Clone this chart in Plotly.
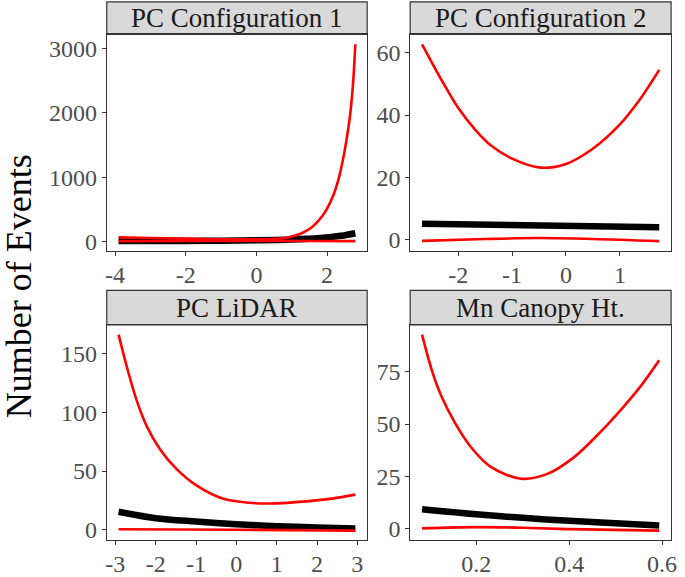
import plotly.graph_objects as go

# ---------------- data ----------------
panel_titles = ["PC Configuration 1", "PC Configuration 2", "PC LiDAR", "Mn Canopy Ht."]

# PC Configuration 1
p1_x_mid = [-3.9, -3.0, -2.0, -1.0, 0.0, 1.0, 1.8, 2.4, 2.8]
p1_mid = [2, 3, 5, 8, 14, 27, 50, 85, 125]
p1_x_up = [-3.9, -3.0, -2.0, -1.0, 0.0, 0.5, 0.8, 1.1, 1.34, 1.55, 1.76, 1.98, 2.18, 2.32, 2.43, 2.55, 2.65, 2.73, 2.8]
p1_up = [60, 50, 40, 32, 30, 37, 50, 88, 140, 210, 320, 490, 720, 960, 1220, 1580, 1960, 2420, 3070]
p1_x_lo = [-3.9, -2.0, 0.0, 1.5, 2.8]
p1_lo = [2, 4, 6, 4, 1]

# PC Configuration 2
p2_x_mid = [-2.67, 1.73]
p2_mid = [5.1, 4.0]
p2_x_up = [-2.67, -2.31, -2.0, -1.69, -1.39, -1.0, -0.47, 0.0, 0.49, 1.0, 1.37, 1.73]
p2_up = [62.7, 51.3, 42.3, 35.4, 30.2, 26.0, 23.1, 24.3, 29.1, 37.0, 45.0, 54.5]
p2_x_lo = [-2.67, -1.5, -0.5, 0.5, 1.73]
p2_lo = [-0.4, 0.2, 0.5, 0.2, -0.5]

# PC LiDAR
p3_x_mid = [-2.92, -2.0, -1.0, 0.0, 1.0, 2.0, 2.95]
p3_mid = [15.3, 9.8, 7.0, 4.7, 3.0, 1.9, 1.1]
p3_x_up = [-2.92, -2.71, -2.47, -2.22, -1.89, -1.48, -0.99, -0.34, 0.32, 0.89, 1.55, 2.37, 2.95]
p3_up = [166.2, 138, 110, 88, 68.4, 51.6, 37.7, 26.5, 22.9, 22.3, 23.7, 26.5, 29.9]
p3_x_lo = [-2.92, 0.0, 2.95]
p3_lo = [0.4, 0.0, -0.8]

# Mn Canopy Ht.
p4_x_mid = [0.083, 0.2, 0.3, 0.4, 0.5, 0.594]
p4_mid = [9.3, 6.9, 5.2, 3.8, 2.6, 1.6]
p4_x_up = [0.083, 0.104, 0.125, 0.154, 0.189, 0.232, 0.296, 0.353, 0.41, 0.466, 0.516, 0.552, 0.594]
p4_up = [92.7, 75.8, 63.2, 50.6, 38.8, 29.4, 23.9, 26.2, 34.1, 45.9, 58.0, 67.5, 80.5]
p4_x_lo = [0.083, 0.2, 0.3, 0.4, 0.594]
p4_lo = [0.2, 0.8, 0.5, -0.2, -0.9]

x_ticks = [[-4, -2, 0, 2], [-2, -1, 0, 1], [-3, -2, -1, 0, 1, 2, 3], [0.2, 0.4, 0.6]]
x_ticktext = [["-4", "-2", "0", "2"], ["-2", "-1", "0", "1"],
              ["-3", "-2", "-1", "0", "1", "2", "3"], ["0.2", "0.4", "0.6"]]
y_ticks = [[0, 1000, 2000, 3000], [0, 20, 40, 60], [0, 50, 100, 150], [0, 25, 50, 75]]

panels = [
    (p1_x_mid, p1_mid, p1_x_up, p1_up, p1_x_lo, p1_lo),
    (p2_x_mid, p2_mid, p2_x_up, p2_up, p2_x_lo, p2_lo),
    (p3_x_mid, p3_mid, p3_x_up, p3_up, p3_x_lo, p3_lo),
    (p4_x_mid, p4_mid, p4_x_up, p4_up, p4_x_lo, p4_lo),
]

# ---------------- layout geometry ----------------
W, H = 685, 577
col_px = [(106, 369.5), (413, 677)]
row_px = [(35, 255, 2), (330, 549, 295)]  # plot top, plot bottom, strip top (pixels from top)

FONT = "Liberation Serif"
fig = go.Figure()
shapes = []
annotations = []

for i, (xm, ym, xu, yu, xl, yl) in enumerate(panels):
    r, c = divmod(i, 2)
    ax = "" if i == 0 else str(i + 1)
    xa, ya = "x" + ax, "y" + ax
    for xs, ys, col, w in [(xm, ym, "black", 6.5), (xu, yu, "#FF0000", 2.6), (xl, yl, "#FF0000", 2.6)]:
        fig.add_trace(go.Scatter(x=xs, y=ys, mode="lines", xaxis=xa, yaxis=ya,
                                 line=dict(color=col, width=w, shape="spline", smoothing=0.9),
                                 showlegend=False, hoverinfo="skip"))
    allx = xm + xu + xl
    ally = ym + yu + yl
    xr = [min(allx), max(allx)]
    yr = [min(ally), max(ally)]
    dx = (xr[1] - xr[0]) * 0.05
    dy = (yr[1] - yr[0]) * 0.05
    x0p, x1p = col_px[c]
    tp, bp, sp = row_px[r]
    fig.layout["xaxis" + ax] = dict(
        domain=[x0p / W, x1p / W], anchor=ya, range=[xr[0] - dx, xr[1] + dx],
        tickvals=x_ticks[i], ticktext=x_ticktext[i], ticks="outside", ticklen=4,
        tickcolor="#333333", tickwidth=1, showgrid=False, zeroline=False,
        showline=True, linecolor="#333333", linewidth=1, mirror=True,
        ticklabelstandoff=-2,
        tickfont=dict(family=FONT, size=24, color="#4D4D4D"))
    fig.layout["yaxis" + ax] = dict(
        domain=[(H - bp) / H, (H - tp) / H], anchor=xa, range=[yr[0] - dy, yr[1] + dy],
        tickvals=y_ticks[i], ticks="outside", ticklen=4,
        tickcolor="#333333", tickwidth=1, showgrid=False, zeroline=False,
        showline=True, linecolor="#333333", linewidth=1, mirror=True,
        tickfont=dict(family=FONT, size=24, color="#4D4D4D"))
    shapes.append(dict(type="rect", xref="paper", yref="paper",
                       x0=x0p / W, x1=x1p / W, y0=(H - tp) / H, y1=(H - sp) / H,
                       fillcolor="#D9D9D9", line=dict(color="#333333", width=1.2), layer="below"))
    annotations.append(dict(text=panel_titles[i], xref="paper", yref="paper",
                            x=(x0p + x1p) / 2 / W, y=(H - (tp + sp) / 2) / H,
                            showarrow=False, xanchor="center", yanchor="middle",
                            font=dict(family=FONT, size=27, color="#1A1A1A")))

annotations.append(dict(text="Number of Events", xref="paper", yref="paper",
                        x=18 / W, y=(H - 291) / H, textangle=-90, showarrow=False,
                        xanchor="center", yanchor="middle",
                        font=dict(family=FONT, size=36, color="black")))

fig.update_layout(width=W, height=H, margin=dict(l=0, r=0, t=0, b=0),
                  paper_bgcolor="white", plot_bgcolor="white",
                  shapes=shapes, annotations=annotations)

fig.write_html("out.html",
               config=dict(displayModeBar=False, responsive=False),
               post_script="document.documentElement.style.margin='0';"
                           "document.body.style.margin='0';"
                           "document.body.style.padding='0';"
                           "document.documentElement.style.overflow='hidden';"
                           "document.body.style.overflow='hidden';")
